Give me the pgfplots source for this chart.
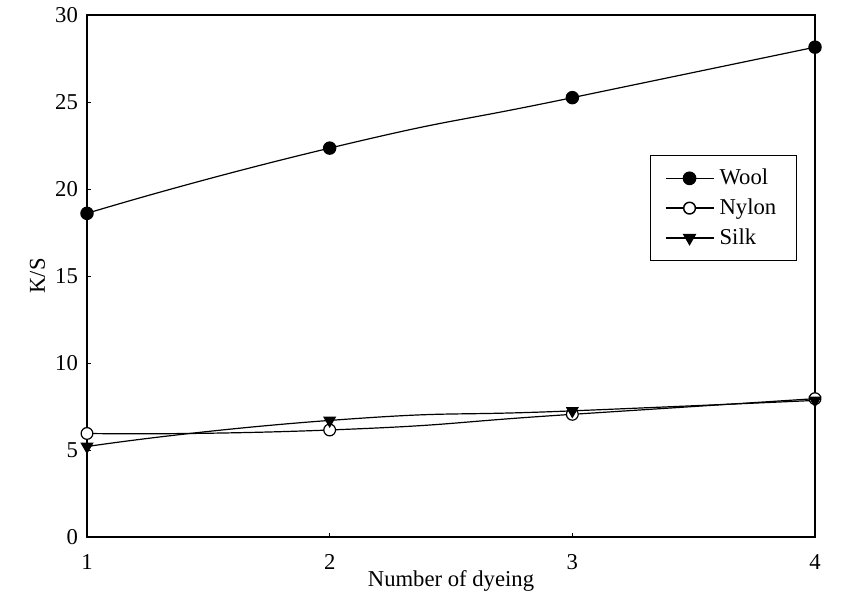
\documentclass[border=0pt]{standalone}
\usepackage{fontspec}
\setmainfont{Liberation Serif}
\usepackage{pgfplots}
\pgfplotsset{compat=1.18}
\begin{document}
\fontsize{17}{20}\selectfont
\begin{tikzpicture}
\begin{axis}[
  at={(0,0)}, anchor=south west,
  scale only axis,
  width=546pt, height=391.5pt,
  xmin=1, xmax=4, ymin=0, ymax=30,
  xtick={1,2,3,4}, ytick={0,5,10,15,20,25,30},
  tick align=inside, xtick pos=lower, ytick pos=left,
  major tick length=3pt,
  tick style={line width=0.7pt, black},
  axis line style={line width=0.9pt},
  /pgf/number format/assume math mode=true,
  ticklabel style={font=\fontsize{17}{20}\selectfont},
  xticklabel style={yshift=-7pt},
  yticklabel style={xshift=-1pt},
  xlabel={Number of dyeing}, ylabel={K/S},
  xlabel style={font=\fontsize{17}{20}\selectfont, yshift=11pt},
  ylabel style={font=\fontsize{17}{20}\selectfont, yshift=-4pt},
  legend style={at={(0.975,0.732)}, anchor=north east, draw=black, line width=0.8pt,
    font=\fontsize{17}{20}\selectfont, row sep=4pt, inner xsep=11pt, inner ysep=8pt,
    nodes={inner xsep=4pt}},
  legend image code/.code={\draw[line width=1.1pt, mark repeat=2,mark phase=2] plot coordinates {(0pt,0pt) (18pt,0pt) (36pt,0pt)};},
  legend cell align=left,
]
\addplot[black, line width=0.9pt, smooth, tension=1, mark=*, mark size=4.6pt, mark options={fill=black}]
  coordinates {(1,18.6) (2,22.35) (3,25.25) (4,28.15)};
\addlegendentry{Wool}
\addplot[black, line width=0.9pt, smooth, tension=1, mark=*, mark size=4.4pt, mark options={fill=white}]
  coordinates {(1,5.95) (2,6.15) (3,7.05) (4,7.95)};
\addlegendentry{Nylon}
\addplot[black, line width=0.9pt, smooth, tension=1, mark=triangle*, mark size=4.8pt, mark options={fill=black, rotate=180}]
  coordinates {(1,5.2) (2,6.7) (3,7.25) (4,7.85)};
\addlegendentry{Silk}
\end{axis}
\pgfresetboundingbox
\path[use as bounding box] (-65.25pt,-52.5pt) rectangle (568.5pt,402.75pt);
\end{tikzpicture}
\end{document}
